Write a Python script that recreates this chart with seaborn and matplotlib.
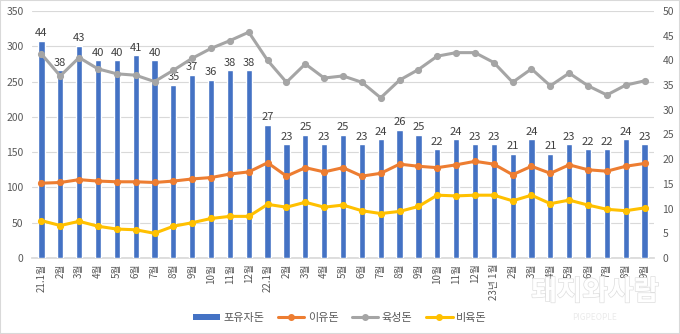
import numpy as np
import pandas as pd
import matplotlib
matplotlib.use('Agg')
import matplotlib.pyplot as plt
import seaborn as sns
from matplotlib.patches import Patch, Rectangle
from matplotlib.lines import Line2D
import matplotlib.patheffects as pe

# ---- data ----
periods = [f'21.{m}' for m in range(1, 13)] + [f'22.{m}' for m in range(1, 13)] + [f'23.{m}' for m in range(1, 10)]
tick_labels = (['21.1월'] + [f'{m}월' for m in range(2, 13)]
               + ['22.1월'] + [f'{m}월' for m in range(2, 13)]
               + ['23년 1월'] + [f'{m}월' for m in range(2, 10)])

sows = [44, 38, 43, 40, 40, 41, 40, 35, 37, 36, 38, 38,
        27, 23, 25, 23, 25, 23, 24, 26, 25, 22, 24, 23,
        23, 21, 24, 21, 23, 22, 22, 24, 23]
weaned = [106, 107, 111, 109, 108, 108, 107, 109, 112, 114, 119, 122,
          135, 116, 128, 122, 128, 116, 120, 133, 130, 128, 132, 137,
          133, 118, 130, 120, 132, 125, 123, 130, 134]
grower = [289, 258, 284, 268, 261, 259, 250, 266, 283, 297, 308, 320,
          280, 249, 275, 255, 258, 249, 227, 252, 267, 286, 291, 291,
          277, 249, 268, 244, 262, 244, 231, 245, 251]
finisher = [53, 46, 52, 45, 41, 40, 35, 45, 50, 56, 59, 59,
            76, 72, 79, 72, 75, 67, 63, 66, 73, 89, 88, 89,
            89, 81, 89, 77, 82, 75, 69, 67, 71]

series_names = ['포유자돈', '이유돈', '육성돈', '비육돈']
colors = ['#4472C4', '#ED7D31', '#A5A5A5', '#FFC000']

df = pd.DataFrame({'period': periods, '포유자돈': sows, '이유돈': weaned,
                   '육성돈': grower, '비육돈': finisher})
long = df.melt(id_vars='period', value_vars=series_names[1:],
               var_name='series', value_name='value')

# ---- style ----
sns.set_theme(style='white')
plt.rcParams['font.family'] = ['Noto Sans CJK KR', 'DejaVu Sans']
txt = '#595959'

fig = plt.figure(figsize=(6.8, 3.34), dpi=100)
ax = fig.add_axes([32 / 680, 1 - 258 / 334, 622 / 680, 247 / 334])
ax_b = ax.twinx()
ax_l = ax.twinx()

# bars (right axis scale)
sns.barplot(data=df, x='period', y='포유자돈', color=colors[0], saturation=1,
            width=0.33, ax=ax_b, order=periods)
ax_b.bar_label(ax_b.containers[0], fmt='%d', padding=2, fontsize=8, color='#404040')
ax_b.set_ylim(0, 50)
ax_b.set_yticks(np.arange(0, 51, 5))
ax_b.set_ylabel('')

# lines (left axis scale)
sns.pointplot(data=long, x='period', y='value', hue='series', order=periods,
              hue_order=series_names[1:], palette=colors[1:], markers='o',
              markersize=3.5, linewidth=2.2, ax=ax_l, legend=False)
ax_l.set_ylim(0, 350)
ax_l.set_yticks([])
ax_l.set_ylabel('')
for s in ax_l.spines.values():
    s.set_visible(False)

# base axis: left ticks + grid
ax.set_ylim(0, 350)
ax.set_yticks(np.arange(0, 351, 50))
ax.grid(axis='y', color='#D9D9D9', linewidth=0.8)
ax.set_xlim(-0.5, len(periods) - 0.5)
ax.set_xticks(range(len(periods)))
ax.set_xticklabels(tick_labels, rotation=90, fontsize=7, color=txt)
ax.set_xlabel('')
ax.tick_params(axis='y', length=0, labelsize=7.5, labelcolor=txt, pad=6)
ax.tick_params(axis='x', length=0, pad=4)
ax_b.tick_params(axis='y', length=0, labelsize=7.5, labelcolor=txt, pad=6)
for a in (ax, ax_b):
    for k, s in a.spines.items():
        s.set_visible(False)
ax.spines['bottom'].set_visible(True)
ax.spines['bottom'].set_color('#D9D9D9')

# legend
handles = [Patch(facecolor=colors[0], edgecolor='none')] + [
    Line2D([0], [0], color=c, lw=2.2, marker='o', markersize=4) for c in colors[1:]]
leg = fig.legend(handles, series_names, loc='center', bbox_to_anchor=(0.5, 1 - 318 / 334),
                 ncol=4, frameon=False, fontsize=8, handlelength=2.4, handleheight=0.5,
                 columnspacing=1.2, handletextpad=0.3)
for t in leg.get_texts():
    t.set_color(txt)

# watermark
fig.text(0.875, 1 - 292 / 334, '돼지와사람', fontsize=20, fontweight='bold', color='white',
         ha='center', va='center',
         path_effects=[pe.withStroke(linewidth=1.0, foreground='#dedede')])
fig.text(0.875, 1 - 318 / 334, 'PIGPEOPLE', fontsize=6, color='#ebebeb', ha='center', va='center')

fig.patches.append(Rectangle((0, 0), 1, 1, transform=fig.transFigure, fill=False,
                             edgecolor='#D9D9D9', linewidth=1.5))

fig.savefig('out.png', dpi=100)
